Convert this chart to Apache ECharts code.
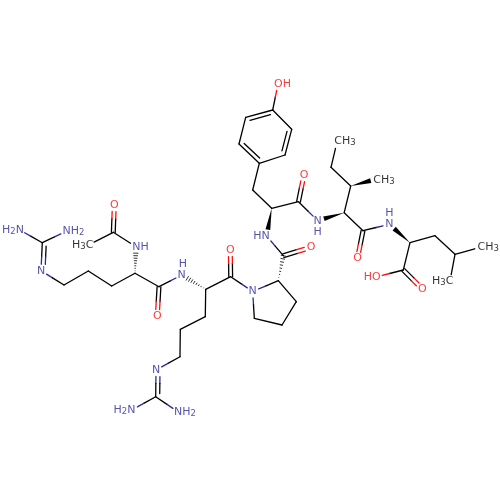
<!DOCTYPE html>
<html><head><meta charset="utf-8">
<style>html,body{margin:0;padding:0;background:#fff}#c{width:500px;height:500px}</style>
<script src="https://cdn.jsdelivr.net/npm/echarts@6/dist/echarts.min.js"></script>
</head><body><div id="c"></div>
<script>
const atomX=[42.3,19,66.7,41,64,88.3,111.7,135,159,157.3,136,113.3,114.3,88.3,181.7,205.7,230.7,230.3,252.7,205.3,180.3,180,156,155.7,131.7,178.3,254.3,282,296.3,278.3,283.3,311,266.7,271.7,298.5,304,252.7,259.3,285,291.7,272.7,245.7,239,278,317.7,344.2,363,357.5,350.7,377,331,337,389.3,410,435,455,481,450,403.3,422.3,376];
const atomY=[242.7,229.5,231,270.7,285,271,286,273.3,286.7,316,246.7,232.3,205,245,275,289.3,276.7,250,291.5,316.7,329.3,356.7,370,396.7,410,412,318.3,325,301.7,280.7,255.7,247.3,236,208.3,201.7,175,190,163.3,155,129.3,110,117.3,144,84,220.7,212.7,230.7,258.3,186,179,167.3,142,224.3,242.7,235.7,254.3,247,281,270,289,277];
const atomEl="CNNNCCCCCOCCOCNCCONCCCNCNNCCCCCONCCOCCCCCCCONCCOCCCCNCCCCCCOO".split("");
const atomHasLabel=[1,2,3,9,10,12,13,14,17,18,22,24,25,31,32,35,43,44,47,49,51,52,56,57,59,60];
const bondFrom=[0,0,0,3,4,5,6,7,8,7,10,11,11,8,15,15,16,16,15,19,20,21,22,23,23,18,26,27,28,29,29,30,30,33,33,34,34,33,36,37,42,41,40,39,38,40,45,45,46,45,48,48,50,46,53,53,54,55,55,53,58,58];
const bondTo=[1,2,3,4,5,6,7,8,9,10,11,12,13,14,14,16,17,18,19,20,21,22,23,24,25,26,27,28,29,18,30,31,32,32,34,35,44,36,37,42,41,40,39,38,37,43,44,46,47,48,49,50,51,52,52,54,55,56,57,58,59,60];
// 0 single, 1 double centred, 2 double with inner line on + side, 3 on - side, 4 solid wedge, 5 hashed wedge
const bondKind=[0,0,3,0,0,0,0,0,1,5,0,1,0,0,5,0,1,0,0,0,0,0,3,0,0,0,0,0,0,0,5,1,0,4,0,1,0,0,0,2,0,2,0,2,0,0,4,0,1,0,4,0,0,0,4,0,0,0,0,0,1,0];
const labelText=["H_2N","NH_2","N","O","NH","O","H_3C","N","H","O","N","N","H_2N","NH_2","O","HN","O","OH","N","H","O","CH_3","CH_3","N","H","CH_3","H_3C","O","HO"];
const labelX=[13,73.5,41,157.3,140.5,114.3,82.7,181.7,183,230.3,252.7,156,124.5,185,311,261.5,304,282.5,317.7,317.7,357.5,384,345,389.3,389.3,488.3,442.7,422.3,372.3];
const labelY=[230,231,271,316,246.7,205,245.5,275,264,250,291.5,370,410,412.5,247.3,236,175,84,220.7,231.7,258.3,180,141,224.3,213.3,247.3,281,289,277];
const labelEl=["N","N","N","O","N","O","C","N","N","O","N","N","N","N","O","N","O","O","N","N","O","C","C","N","N","C","C","O","O"];

const colors={C:'#000000',N:'#2a2a99',O:'#ff0d0d'};
const trimR=6.5, lw=1.3;

function seg(a,b,c){return {type:'line',shape:{x1:a[0],y1:a[1],x2:b[0],y2:b[1]},style:{stroke:c,lineWidth:lw,lineCap:'round'},silent:true};}
function lerp(a,b,t){return [a[0]+(b[0]-a[0])*t,a[1]+(b[1]-a[1])*t];}
function renderBond(params,api){
  const i=params.dataIndex;
  const f=bondFrom[i],t=bondTo[i],k=bondKind[i];
  const A=api.coord([api.value(0),api.value(1)]),B=api.coord([api.value(2),api.value(3)]);
  const dx=B[0]-A[0],dy=B[1]-A[1],L=Math.hypot(dx,dy),nx=-dy/L,ny=dx/L;
  const ta=atomHasLabel.includes(f)?trimR/L:0,tb=atomHasLabel.includes(t)?trimR/L:0;
  const ca=colors[atomEl[f]],cb=colors[atomEl[t]];
  const out=[];
  function split(p,q,s,e){
    const m=lerp(p,q,0.5),a=lerp(p,q,s),b=lerp(p,q,e);
    if(ca===cb){out.push(seg(a,b,ca));}else{out.push(seg(a,m,ca));out.push(seg(m,b,cb));}
  }
  const off=(p,d)=>[p[0]+nx*d,p[1]+ny*d];
  if(k===0){split(A,B,ta,1-tb);}
  else if(k===1){split(off(A,1.9),off(B,1.9),ta,1-tb);split(off(A,-1.9),off(B,-1.9),ta,1-tb);}
  else if(k===2||k===3){
    const d=k===2?4:-4;
    split(A,B,ta,1-tb);
    const s=Math.max(ta,0.12),e=Math.min(1-tb,0.88);
    split(off(A,d),off(B,d),s,e);
  }else if(k===4){
    const E=lerp(A,B,1-tb),w=2.4;
    out.push({type:'polygon',shape:{points:[A,[E[0]+nx*w,E[1]+ny*w],[E[0]-nx*w,E[1]-ny*w]]},style:{fill:colors.C},silent:true});
  }else{
    const n=8;
    for(let j=1;j<=n;j++){
      const c=lerp(A,B,(1-tb)*j/n),w=2.6*j/n;
      out.push({type:'line',shape:{x1:c[0]+nx*w,y1:c[1]+ny*w,x2:c[0]-nx*w,y2:c[1]-ny*w},style:{stroke:colors.C,lineWidth:0.8},silent:true});
    }
  }
  return {type:'group',children:out};
}
function richFor(){const r={};for(const k in colors){r[k]={color:colors[k],fontSize:11,fontFamily:'DejaVu Sans',lineHeight:12};r[k+'s']={color:colors[k],fontSize:8.5,fontFamily:'DejaVu Sans',verticalAlign:'bottom',padding:[7,0,0,0],lineHeight:12};}return r;}
function fmt(p){
  const el=labelEl[p.dataIndex],s=labelText[p.dataIndex];
  return s.split(/(_\d)/).filter(Boolean).map(x=>x[0]==='_'?`{${el}s|${x[1]}}`:`{${el}|${x}}`).join('');
}
const chart=echarts.init(document.getElementById('c'),null,{renderer:'canvas'});
chart.setOption({
  animation:false,backgroundColor:'#ffffff',
  grid:{left:0,right:0,top:0,bottom:0},
  xAxis:{type:'value',min:0,max:500,show:false},
  yAxis:{type:'value',min:0,max:500,inverse:true,show:false},
  series:[
    {type:'custom',renderItem:renderBond,silent:true,clip:false,
     data:bondFrom.map((f,i)=>[atomX[f],atomY[f],atomX[bondTo[i]],atomY[bondTo[i]]])},
    {type:'scatter',symbolSize:0,silent:true,clip:false,
     data:labelText.map((s,i)=>[labelX[i],labelY[i]]),
     label:{show:true,position:'inside',align:'center',verticalAlign:'middle',formatter:fmt,rich:richFor()}}
  ]
});
</script></body></html>
